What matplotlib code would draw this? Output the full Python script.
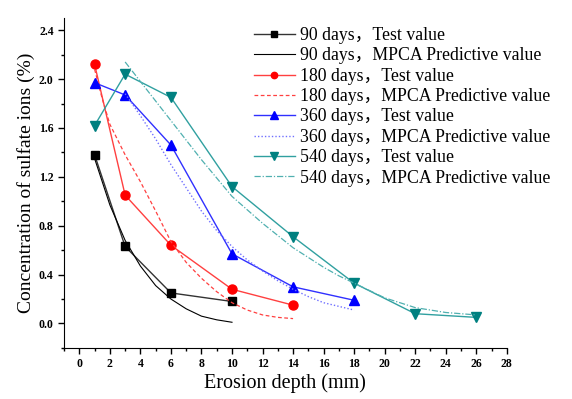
import matplotlib
matplotlib.use("Agg")
import matplotlib.pyplot as plt
from matplotlib.ticker import MultipleLocator

plt.rcParams["font.family"] = ["Liberation Serif", "Noto Sans CJK SC"]
plt.rcParams["mathtext.fontset"] = "stix"

# test values
x90 = [1, 3, 6, 10]
y90 = [1.38, 0.63, 0.25, 0.18]
x180 = [1, 3, 6, 10, 14]
y180 = [2.12, 1.05, 0.64, 0.28, 0.15]
x360 = [1, 3, 6, 10, 14, 18]
y360 = [1.97, 1.87, 1.46, 0.57, 0.30, 0.19]
x540 = [1, 3, 6, 10, 14, 18, 22, 26]
y540 = [1.62, 2.04, 1.85, 1.12, 0.71, 0.33, 0.08, 0.05]

# MPCA predictive values
px90 = [1, 2, 3, 4, 5, 6, 7, 8, 9, 10]
py90 = [1.35, 0.97, 0.68, 0.47, 0.31, 0.20, 0.12, 0.06, 0.03, 0.01]
px180 = [1, 1.5, 2, 3, 4, 5, 6, 7, 8, 9, 10, 11, 12, 13, 14]
py180 = [2.08, 1.84, 1.63, 1.38, 1.16, 0.92, 0.67, 0.50, 0.37, 0.26, 0.17, 0.11, 0.07, 0.05, 0.04]
px360 = [3, 4, 5, 6, 7, 8, 9, 10, 11, 12, 13, 14, 15, 16, 17, 18]
py360 = [1.88, 1.70, 1.51, 1.30, 1.11, 0.92, 0.76, 0.63, 0.52, 0.43, 0.35, 0.28, 0.22, 0.17, 0.14, 0.11]
px540 = [3, 4, 5, 6, 7, 8, 9, 10, 11, 12, 13, 14, 15, 16, 17, 18, 19, 20, 21, 22, 23, 24, 25, 26]
py540 = [2.14, 1.98, 1.82, 1.66, 1.50, 1.34, 1.19, 1.04, 0.93, 0.82, 0.72, 0.62, 0.54, 0.46, 0.39, 0.33,
         0.27, 0.21, 0.17, 0.13, 0.11, 0.09, 0.08, 0.07]

fig = plt.figure(figsize=(5.72, 3.99), dpi=100)
ax = fig.add_axes([0.112, 0.128, 0.774, 0.827])

ax.plot(x90, y90, color="#333333", lw=1.0, marker="s", ms=5.5, mfc="black", mec="black",
        label="90 days，Test value")
ax.plot(px90, py90, color="black", lw=0.8, label="90 days，MPCA Predictive value")
ax.plot(x180, y180, color="#ff4040", lw=1.0, marker="o", ms=6.5, mfc="red", mec="red",
        label="180 days，Test value")
ax.plot(px180, py180, color="#ff4040", lw=0.9, ls=(0, (3, 2)),
        label="180 days，MPCA Predictive value")
ax.plot(x360, y360, color="#3030ff", lw=1.0, marker="^", ms=7.5, mfc="blue", mec="blue",
        label="360 days，Test value")
ax.plot(px360, py360, color="#7070ff", lw=1.0, ls=(0, (1, 1.5)),
        label="360 days，MPCA Predictive value")
ax.plot(x540, y540, color="#30a0a0", lw=1.0, marker="v", ms=7.5, mfc="#008080", mec="#008080",
        label="540 days，Test value")
ax.plot(px540, py540, color="#50b0b0", lw=0.9, ls=(0, (5, 1.5, 1, 1.5)),
        label="540 days，MPCA Predictive value")

ax.set_xlim(-1, 28)
ax.set_ylim(-0.2, 2.5)
ax.xaxis.set_major_locator(MultipleLocator(2))
ax.xaxis.set_minor_locator(MultipleLocator(1))
ax.yaxis.set_major_locator(MultipleLocator(0.4))
ax.yaxis.set_minor_locator(MultipleLocator(0.2))
ax.spines["top"].set_visible(False)
ax.spines["right"].set_visible(False)
ax.tick_params(which="major", direction="out", length=4, width=1, labelsize=8.5)
ax.tick_params(which="minor", direction="out", length=2.5, width=1)
for lab in ax.get_xticklabels() + ax.get_yticklabels():
    lab.set_fontweight("bold")
ax.xaxis.set_major_formatter(plt.FuncFormatter(lambda v, p: f"{v:.0f}"))
ax.yaxis.set_major_formatter(plt.FuncFormatter(lambda v, p: f"{v:.1f}"))

ax.set_xlabel("Erosion depth (mm)", fontsize=14.5, labelpad=2)
ax.set_ylabel("Concentration of sulfate ions (%)", fontsize=14, labelpad=3)

ax.legend(loc="upper left", bbox_to_anchor=(0.405, 1.005), frameon=False, fontsize=12.8,
          handlelength=2.3, handletextpad=0.3, labelspacing=0.19, borderaxespad=0.2,
          markerscale=0.7)

fig.savefig("out.png", dpi=100)
